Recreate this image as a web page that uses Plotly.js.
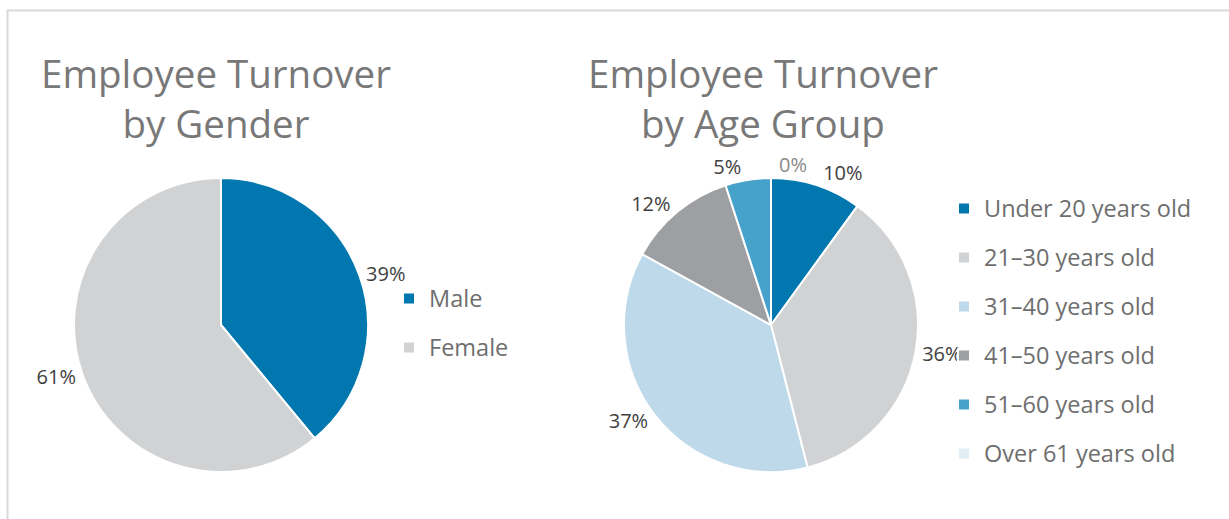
<!DOCTYPE html>
<html>
<head>
<meta charset="utf-8">
<script src="https://cdn.plot.ly/plotly-3.0.1.min.js"></script>
<style>html,body{margin:0;padding:0;background:#fff;}#chart{width:1229px;height:519px;}</style>
</head>
<body>
<div id="chart"></div>
<script>
const genderLabels = ["Male", "Female"];
const genderValues = [39, 61];
const genderColors = ["#0077AE", "#D1D2D4"];

const ageLabels = ["Under 20 years old", "21\u201330 years old", "31\u201340 years old", "41\u201350 years old", "51\u201360 years old", "Over 61 years old"];
const ageValues = [10, 36, 37, 12, 5, 0];
const ageColors = ["#0077AE", "#D1D2D4", "#BDD9EA", "#9D9FA2", "#46A1CB", "#E1EEF6"];

const titleLeft = "Employee Turnover<br>by Gender";
const titleRight = "Employee Turnover<br>by Age Group";

const W = 1229, H = 519;
const FONT = '"Open Sans", Lato, sans-serif';
const legendLabel = l => '<span style="font-size:23.5px;baseline-shift:5.5px">' + l + '</span>';

const common = {
  type: 'pie',
  sort: false,
  direction: 'clockwise',
  rotation: 0,
  texttemplate: '%{value}%',
  hoverinfo: 'label+percent'
};

const pieDomainLeft = {x: [74 / W, 368 / W], y: [(H - 472) / H, (H - 178) / H]};
const pieDomainRight = {x: [624 / W, 918 / W], y: [(H - 472) / H, (H - 178) / H]};

const traces = [
  Object.assign({}, common, {
    labels: genderLabels.map(legendLabel),
    values: genderValues,
    textposition: 'outside',
    outsidetextfont: {family: FONT, size: 20, color: '#404040'},
    marker: {colors: genderColors, line: {color: '#ffffff', width: 2}},
    domain: pieDomainLeft,
    legend: 'legend'
  }),
  Object.assign({}, common, {
    labels: ageLabels.map(legendLabel),
    values: ageValues,
    textposition: ageValues.map(v => v === 0 ? 'none' : 'outside'),
    outsidetextfont: {family: FONT, size: 20, color: '#404040'},
    marker: {colors: ageColors, line: {color: '#ffffff', width: 2}},
    domain: pieDomainRight,
    legend: 'legend2'
  }),
  // label carrier for zero-value slices (transparent copy of the same pie)
  Object.assign({}, common, {
    labels: ageLabels.map(legendLabel),
    values: ageValues,
    rotation: 0.5,
    textposition: ageValues.map(v => v === 0 ? 'outside' : 'none'),
    outsidetextfont: {family: FONT, size: 20, color: '#8A8A8A'},
    marker: {colors: ageValues.map(() => 'rgba(0,0,0,0)'), line: {width: 0}},
    domain: pieDomainRight,
    showlegend: false,
    hoverinfo: 'skip',
    legend: 'legend2'
  })
];

const legendBase = {
  font: {family: FONT, size: 35.4, color: '#6E6E6E'},
  bgcolor: 'rgba(0,0,0,0)',
  xanchor: 'left',
  yanchor: 'top',
  orientation: 'v'
};

const titleFont = {family: FONT, size: 38.5, color: '#787878'};

const layout = {
  width: W, height: H,
  margin: {l: 0, r: 0, t: 0, b: 0},
  paper_bgcolor: '#ffffff',
  font: {family: FONT},
  showlegend: true,
  legend: Object.assign({}, legendBase, {x: 389 / W, y: 1 - 269 / H}),
  legend2: Object.assign({}, legendBase, {x: 944 / W, y: 1 - 179 / H}),
  shapes: [
    {type: 'line', xref: 'paper', yref: 'paper', x0: 7.5 / W, x1: 7.5 / W, y0: -0.05, y1: 1 - 10.5 / H, line: {color: '#D9D9D9', width: 2}},
    {type: 'line', xref: 'paper', yref: 'paper', x0: 6.5 / W, x1: 1.05, y0: 1 - 10.5 / H, y1: 1 - 10.5 / H, line: {color: '#D9D9D9', width: 2}}
  ],
  annotations: [
    {text: titleLeft, xref: 'paper', yref: 'paper', x: 216 / W, y: 1 - 45 / H, xanchor: 'center', yanchor: 'top', showarrow: false,
     font: titleFont, align: 'center'},
    {text: titleRight, xref: 'paper', yref: 'paper', x: 763 / W, y: 1 - 45 / H, xanchor: 'center', yanchor: 'top', showarrow: false,
     font: titleFont, align: 'center'}
  ]
};

Plotly.newPlot('chart', traces, layout, {displayModeBar: false, staticPlot: true});
</script>
</body>
</html>
